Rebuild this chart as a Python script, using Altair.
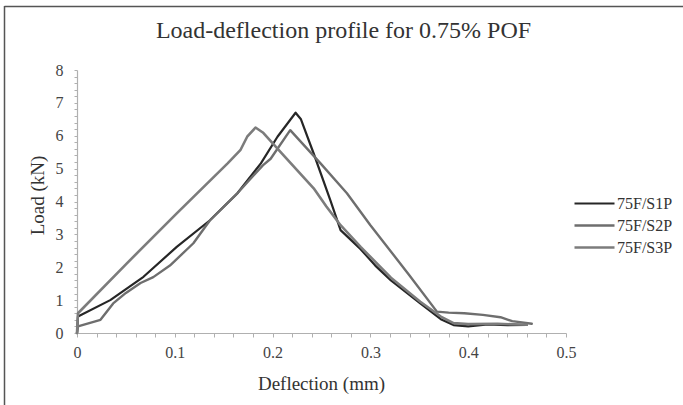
import altair as alt
import pandas as pd

# Series data
s1_x = [0, 0.001, 0.034, 0.068, 0.102, 0.136, 0.164, 0.188, 0.205, 0.2235, 0.229, 0.242, 0.259, 0.2695,
        0.29, 0.305, 0.321, 0.351, 0.372, 0.385, 0.40, 0.42, 0.44, 0.46]
s1_y = [0, 0.5, 1.0, 1.71, 2.62, 3.43, 4.25, 5.16, 5.97, 6.7, 6.5, 5.46, 4.04, 3.13,
        2.55, 2.05, 1.6, 0.9, 0.42, 0.24, 0.2, 0.26, 0.24, 0.25]

s2_x = [0, 0.001, 0.024, 0.037, 0.05, 0.065, 0.078, 0.095, 0.119, 0.136, 0.164, 0.19, 0.198, 0.218,
        0.249, 0.276, 0.30, 0.34, 0.368, 0.38, 0.396, 0.415, 0.433, 0.445, 0.465]
s2_y = [0, 0.2, 0.4, 0.9, 1.22, 1.52, 1.7, 2.05, 2.73, 3.43, 4.25, 5.1, 5.3, 6.17,
        5.16, 4.25, 3.28, 1.75, 0.65, 0.62, 0.6, 0.55, 0.48, 0.36, 0.28]

s3_x = [0, 0.001, 0.051, 0.102, 0.154, 0.167, 0.174, 0.1825, 0.19, 0.208, 0.242, 0.255, 0.2695,
        0.29, 0.321, 0.351, 0.372, 0.385, 0.40, 0.43, 0.46]
s3_y = [0, 0.6, 2.12, 3.64, 5.16, 5.56, 5.97, 6.25, 6.1, 5.51, 4.4, 3.85, 3.28,
        2.62, 1.68, 0.95, 0.5, 0.3, 0.27, 0.28, 0.25]

series_names = ["75F/S1P", "75F/S2P", "75F/S3P"]
series_colors = ["#262626", "#6e6e6e", "#7c7c7c"]
series_widths = [2.2, 2.6, 1.8]

x_ticks = [round(i * 0.02, 2) for i in range(26)]
y_ticks = [round(i * 0.2, 1) for i in range(41)]

rows = []
for name, xs, ys in zip(series_names, [s1_x, s2_x, s3_x], [s1_y, s2_y, s3_y]):
    for i, (x, y) in enumerate(zip(xs, ys)):
        rows.append({"series": name, "idx": i, "x": x, "y": y})
df = pd.DataFrame(rows)

FONT = "'Liberation Serif', 'Times New Roman', serif"

lines = alt.Chart(df).mark_line(strokeJoin="round", strokeCap="round").encode(
    x=alt.X("x:Q", scale=alt.Scale(domain=[0, 0.5], nice=False),
            axis=alt.Axis(title="Deflection (mm)", values=x_ticks,
                          labelExpr="abs(datum.value*10 - round(datum.value*10)) < 0.001 ? format(datum.value, '.1~f') : ''",
                          labelOverlap=False, labelFlush=False, grid=False,
                          tickSize=4, labelPadding=7, titleY=56, titleX=244,
                          titleBaseline="alphabetic")),
    y=alt.Y("y:Q", scale=alt.Scale(domain=[0, 8], nice=False),
            axis=alt.Axis(title="Load (kN)", values=y_ticks,
                          labelExpr="abs(datum.value - round(datum.value)) < 0.001 ? format(datum.value, 'd') : ''",
                          labelOverlap=False, labelFlush=False, grid=False,
                          tickSize=3, labelPadding=11, titleX=-34, titleY=125,
                          titleBaseline="alphabetic", titleAlign="center")),
    color=alt.Color("series:N", scale=alt.Scale(domain=series_names, range=series_colors),
                    legend=alt.Legend(title=None, orient="none", legendX=504, legendY=120,
                                      symbolType="M-2,0H2", symbolSize=400, symbolStrokeWidth=2.5,
                                      labelFont=FONT, labelFontSize=16, labelColor="#333",
                                      rowPadding=2, labelOffset=11, padding=2)),
    strokeWidth=alt.StrokeWidth("series:N", scale=alt.Scale(domain=series_names, range=series_widths),
                                legend=None),
    order="idx:Q",
)

border_left = alt.Chart(pd.DataFrame({"k": [0]})).mark_rule(color="#555", strokeWidth=1.5).encode(
    x=alt.value(-72.5), y=alt.value(-64), y2=alt.value(340)
)
border_top = alt.Chart(pd.DataFrame({"k": [0]})).mark_rule(color="#555", strokeWidth=1.5).encode(
    x=alt.value(-72.5), x2=alt.value(620), y=alt.value(-63.5)
)

chart = alt.layer(border_left, border_top, lines).properties(
    width=489, height=263,
    padding={"left": 77, "top": 70, "right": 117, "bottom": 72},
    autosize=alt.AutoSizeParams(type="none"),
    title=alt.TitleParams("Load-deflection profile for 0.75% POF", font=FONT, fontSize=24,
                          fontWeight="normal", color="#333", anchor="middle", dx=22,
                          offset=-57, baseline="alphabetic", frame="group"),
).configure_view(stroke=None).configure_axis(
    labelFont=FONT, titleFont=FONT, labelFontSize=16, titleFontSize=19,
    titleFontWeight="normal", labelColor="#444", titleColor="#333",
    domainColor="#b0b0b0", tickColor="#b0b0b0", domainWidth=1.2,
)

chart.save("out.html", embed_options={"renderer": "svg", "actions": False})
